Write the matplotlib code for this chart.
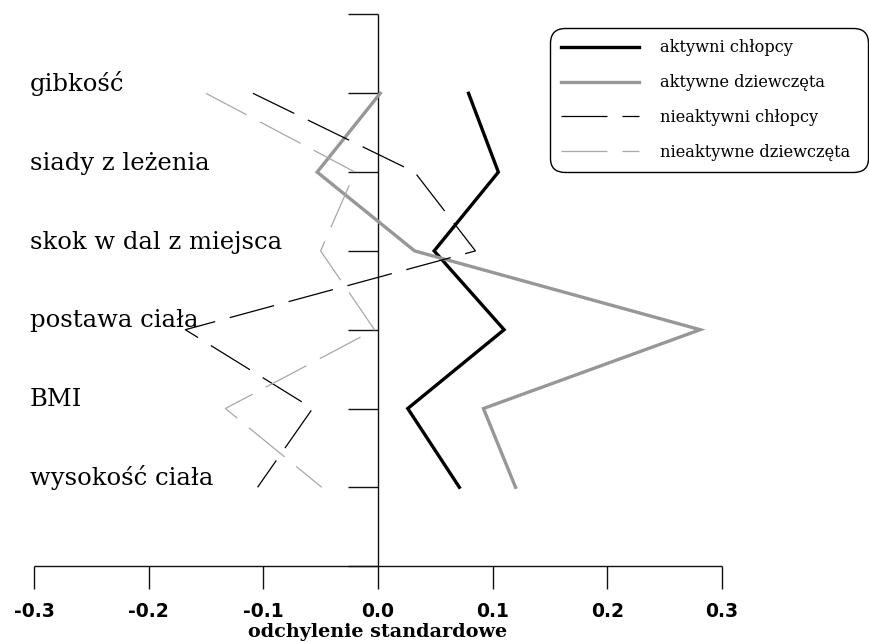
import matplotlib
matplotlib.use("Agg")
import matplotlib.pyplot as plt

categories = ['gibkość', 'siady z leżenia', 'skok w dal z miejsca',
              'postawa ciała', 'BMI', 'wysokość ciała']
aktywni_chlopcy = [0.079, 0.105, 0.049, 0.110, 0.026, 0.071]
aktywne_dziewczeta = [0.002, -0.053, 0.032, 0.281, 0.092, 0.120]
nieaktywni_chlopcy = [-0.109, 0.032, 0.085, -0.168, -0.057, -0.105]
nieaktywne_dziewczeta = [-0.150, -0.020, -0.050, -0.003, -0.133, -0.049]
series_labels = ['aktywni chłopcy', 'aktywne dziewczęta',
                 'nieaktywni chłopcy', 'nieaktywne dziewczęta']
x_ticks = [-0.3, -0.2, -0.1, 0.0, 0.1, 0.2, 0.3]
x_tick_labels = ['-0.3', '-0.2', '-0.1', '0.0', '0.1', '0.2', '0.3']
x_label = 'odchylenie standardowe'

fig = plt.figure(figsize=(8.7, 6.42), dpi=100)
ax = fig.add_axes([0, 0, 1, 1])
ax.set_xlim(-0.3296, 0.4291)
ax.set_ylim(6.963, -1.184)
ax.axis('off')

pos = list(range(len(categories)))

# axes drawn manually
axis_col = '#111111'
ax.vlines(0, -1, len(categories), color=axis_col, lw=1.0)
ax.hlines(list(range(-1, len(categories) + 1)), -0.026, 0, color=axis_col, lw=1.0)
ax.hlines(len(categories), x_ticks[0], x_ticks[-1], color=axis_col, lw=1.0)
ax.vlines(x_ticks, len(categories), len(categories) + 0.29, color=axis_col, lw=1.0)
for xt, lab in zip(x_ticks, x_tick_labels):
    ax.text(xt, len(categories) + 0.58, lab, ha='center', va='center',
            fontsize=13.5, fontweight='bold', family='DejaVu Sans')
ax.text(0.0, len(categories) + 0.83, x_label, ha='center', va='center',
        fontsize=13.8, fontweight='bold', family='DejaVu Serif')

for p, c in zip(pos, categories):
    ax.text(30 / 870, p - 0.03, c, transform=ax.get_yaxis_transform(),
            ha='left', va='baseline', fontsize=17.5, family='DejaVu Serif')

l1, = ax.plot(aktywni_chlopcy, pos, color='black', lw=2.4,
              solid_joinstyle='miter', label=series_labels[0])
l2, = ax.plot(aktywne_dziewczeta, pos, color='#979797', lw=2.4,
              solid_joinstyle='miter', label=series_labels[1])
l3, = ax.plot(nieaktywni_chlopcy, pos, color='black', lw=0.9,
              dashes=(36.8, 12), label=series_labels[2])
l4, = ax.plot(nieaktywne_dziewczeta, pos, color='#a8a8a8', lw=0.9,
              dashes=(36.8, 12), label=series_labels[3])

leg = ax.legend(handles=[l1, l2, l3, l4], loc='upper left',
                bbox_to_anchor=(550 / 870, 1 - 28 / 642, 318 / 870, 0.0),
                bbox_transform=fig.transFigure, mode='expand',
                prop={'family': 'DejaVu Serif', 'size': 11.7},
                handlelength=4.75, handletextpad=1.3, labelspacing=1.1,
                borderpad=0.7, borderaxespad=0, frameon=True, fancybox=True)
fr = leg.get_frame()
fr.set_edgecolor('black')
fr.set_linewidth(1.0)
fr.set_boxstyle('round,pad=0,rounding_size=0.9')
fr.set_alpha(1)

fig.savefig('out.png', dpi=100)
